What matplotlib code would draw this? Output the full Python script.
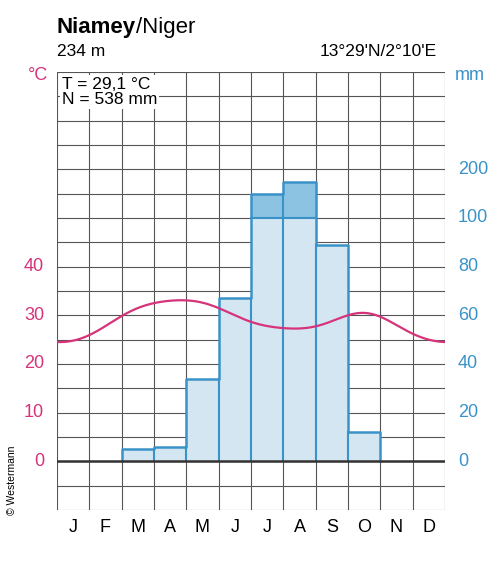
import numpy as np
import matplotlib.pyplot as plt

plt.rcParams['font.family'] = ['Liberation Sans', 'DejaVu Sans']

months = ['J', 'F', 'M', 'A', 'M', 'J', 'J', 'A', 'S', 'O', 'N', 'D']
temp = [24.8, 27.8, 31.5, 33.0, 32.6, 30.0, 27.8, 27.3, 28.8, 30.5, 28.0, 25.0]
precip = [0, 0, 5, 6, 34, 67, 150, 175, 89, 12, 0, 0]
left_ticks = [0, 10, 20, 30, 40]
right_ticks = [0, 20, 40, 60, 80, 100, 200]

pink = '#d6337a'
blue = '#3a93c8'
light = '#d4e6f2'
dark = '#8cc3e3'


def p2y(p):
    p = np.asarray(p, dtype=float)
    return np.where(p <= 100, p / 2, 50 + (p - 100) / 10)


fig = plt.figure(figsize=(5.02, 5.72), dpi=100)
ax = fig.add_axes([57 / 502, 62 / 572, 388 / 502, 438 / 572])
ax.set_xlim(0, 12)
ax.set_ylim(-10, 80)

for y in np.arange(-10, 81, 5):
    ax.axhline(y, color='#555555', lw=0.8, zorder=1)
for x in range(13):
    ax.axvline(x, color='#555555', lw=0.8, zorder=1)

py = p2y(precip)
for i in range(12):
    if precip[i] <= 0:
        continue
    ax.bar(i + 0.5, min(py[i], 50), width=1, color=light, zorder=2)
    if py[i] > 50:
        ax.bar(i + 0.5, py[i] - 50, bottom=50, width=1, color=dark, zorder=2)
# outline of precipitation steps
xs, ys = [], []
first, last = 2, 9
for i in range(first, last + 1):
    xs += [i, i + 1]
    ys += [py[i], py[i]]
ax.plot([first] + xs + [last + 1], [0] + ys + [0], color=blue, lw=1.8, zorder=3)
for i in range(first + 1, last + 1):
    ax.plot([i, i], [0, min(py[i - 1], py[i])], color=blue, lw=1.5, zorder=3)
ax.axhline(50, xmin=6 / 12, xmax=8 / 12, color=blue, lw=1.5, zorder=3)

ax.axhline(0, color='#333333', lw=1.8, zorder=4)

# smooth periodic temperature curve through monthly means
c = np.fft.rfft(temp)
t = np.linspace(-0.5, 11.5, 400)
k = np.arange(len(c))
curve = np.real(np.sum(c[None, :] * np.exp(2j * np.pi * k[None, :] * t[:, None] / 12)
                       * np.where((k == 0) | (k == 6), 1, 2)[None, :], axis=1)) / 12
ax.plot(t + 0.5, curve, color=pink, lw=1.6, zorder=5)

ax.set_xticks([])
ax.set_yticks([])
for s in ax.spines.values():
    s.set_visible(False)

for v in left_ticks:
    ax.text(-0.4, v, str(v), color=pink, ha='right', va='center', fontsize=13)
for v in right_ticks:
    ax.text(12.4, p2y(v), str(v), color=blue, ha='left', va='center', fontsize=13)
for i, m in enumerate(months):
    ax.text(i + 0.5, -13.5, m, ha='center', va='center', fontsize=13)

ax.text(0.15, 79, 'T = 29,1 °C\nN = 538 mm', ha='left', va='top', fontsize=12.5,
        linespacing=1.05, zorder=6, bbox=dict(facecolor='white', edgecolor='none', pad=1))

t1 = fig.text(57 / 502, 1 - 28 / 572, 'Niamey', fontsize=16, fontweight='bold', ha='left', va='center')
fig.canvas.draw()
bb = t1.get_window_extent()
fig.text(bb.x1 / fig.bbox.width, 1 - 28 / 572, '/Niger', fontsize=16, ha='left', va='center')
fig.text(57 / 502, 1 - 52 / 572, '234 m', fontsize=12.5, ha='left', va='center')
fig.text(437 / 502, 1 - 52 / 572, "13°29'N/2°10'E", fontsize=12.5, ha='right', va='center')
fig.text(38 / 502, 1 - 75 / 572, '°C', fontsize=13, color=pink, ha='center', va='center')
fig.text(470 / 502, 1 - 75 / 572, 'mm', fontsize=13, color=blue, ha='center', va='center')
fig.text(12 / 502, 1 - 480 / 572, '© Westermann', fontsize=7.5, rotation=90, ha='center', va='center')

fig.savefig('out.png', dpi=100, facecolor='white')
